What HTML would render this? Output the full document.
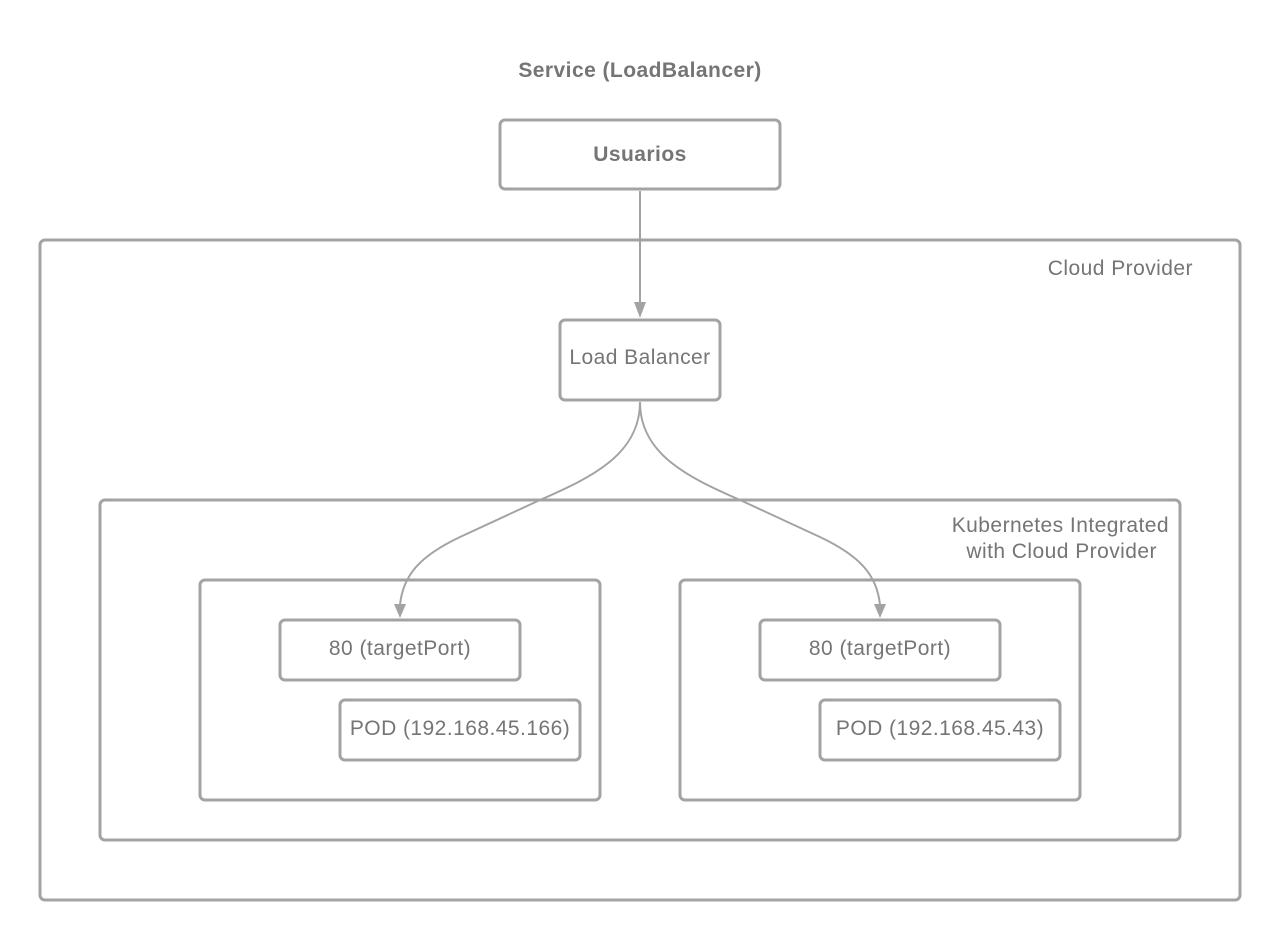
<!DOCTYPE html>
<html><head><meta charset="utf-8"><style>
body{margin:0;background:#fff;}
svg text{font-family:"Liberation Sans",sans-serif;fill:#757575;font-size:21px;letter-spacing:0.45px;}
</style></head><body>
<svg width="1280" height="940" viewBox="0 0 1280 940" xmlns="http://www.w3.org/2000/svg">
<g fill="none" stroke="#a3a3a3" stroke-width="3">
<rect x="500" y="120" width="280" height="69" rx="5"/>
<rect x="40" y="240" width="1200" height="660" rx="5"/>
<rect x="560" y="320" width="160" height="80" rx="5"/>
<rect x="100" y="500" width="1080" height="340" rx="5"/>
<rect x="200" y="580" width="400" height="220" rx="5"/>
<rect x="680" y="580" width="400" height="220" rx="5"/>
<rect x="280" y="620" width="240" height="60" rx="5"/>
<rect x="760" y="620" width="240" height="60" rx="5"/>
<rect x="340" y="700" width="240" height="60" rx="5"/>
<rect x="820" y="700" width="240" height="60" rx="5"/>
</g>
<g fill="none" stroke="#a3a3a3" stroke-width="2">
<line x1="640" y1="191" x2="640" y2="304"/>
<path d="M640,402 C640,455 590,478 540,500 L460,537 C420,556 403,575 400,605"/>
<path d="M640,402 C640,455 690,478 740,500 L820,537 C860,556 877,575 880,605"/>
</g>
<g fill="#a3a3a3">
<polygon points="634,302 646,302 640,318"/>
<polygon points="394,604 406,604 400,618"/>
<polygon points="874,604 886,604 880,618"/>
</g>
<text x="640" y="77" font-weight="bold" text-anchor="middle">Service (LoadBalancer)</text>
<text x="640" y="161" font-weight="bold" text-anchor="middle">Usuarios</text>
<text x="1193" y="275" text-anchor="end">Cloud Provider</text>
<text x="640" y="364" text-anchor="middle">Load Balancer</text>
<text x="1169" y="532" text-anchor="end">Kubernetes Integrated</text>
<text x="1157" y="558" text-anchor="end">with Cloud Provider</text>
<text x="400" y="655" text-anchor="middle">80 (targetPort)</text>
<text x="880" y="655" text-anchor="middle">80 (targetPort)</text>
<text x="460" y="735" text-anchor="middle">POD (192.168.45.166)</text>
<text x="940" y="735" text-anchor="middle">POD (192.168.45.43)</text>
</svg>
</body></html>
